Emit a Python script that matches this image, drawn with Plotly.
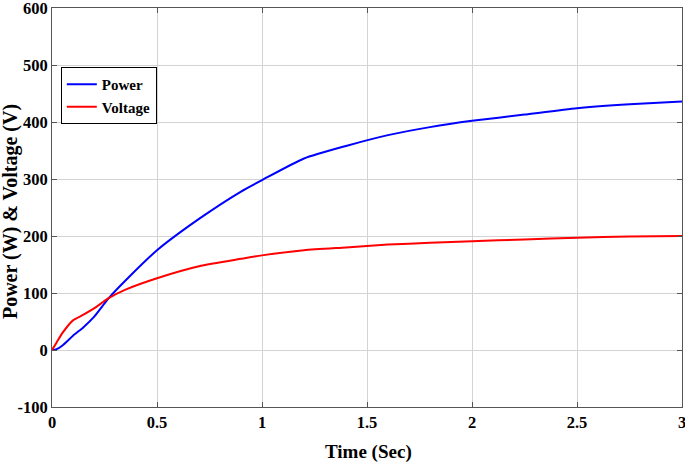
import plotly.graph_objects as go

time_s = [0, 0.02, 0.05, 0.1, 0.15, 0.2, 0.27, 0.35, 0.5, 0.7, 0.9, 1.0, 1.2, 1.4, 1.6, 1.8, 2.0, 2.25, 2.5, 2.75, 3.0]
power_w = [0, 1, 8, 25, 40, 58, 91, 122, 175, 230, 278, 298, 336, 358, 377, 391, 402, 413, 424, 431, 436]
voltage_v = [0, 12, 30, 52, 62, 73, 91, 106, 126, 147, 160, 166, 175, 180, 185, 188, 191, 194, 197, 199, 200]

x_ticks = [0, 0.5, 1, 1.5, 2, 2.5, 3]
x_labels = ["0", "0.5", "1", "1.5", "2", "2.5", "3"]
y_ticks = [-100, 0, 100, 200, 300, 400, 500, 600]
y_labels = ["-100", "0", "100", "200", "300", "400", "500", "600"]

font_family = "Liberation Serif"

fig = go.Figure()
fig.add_trace(go.Scatter(x=time_s, y=power_w, mode="lines", name="Power",
                         line=dict(color="#0000ff", width=2, shape="spline", smoothing=0.6)))
fig.add_trace(go.Scatter(x=time_s, y=voltage_v, mode="lines", name="Voltage",
                         line=dict(color="#ff0000", width=2, shape="spline", smoothing=0.6)))

axis_common = dict(showline=True, linecolor="#555555", linewidth=1, mirror="ticks",
                   ticks="inside", ticklen=5, tickcolor="#555555",
                   showgrid=True, gridcolor="#d3d3d3", gridwidth=1, zeroline=False,
                   automargin=False, ticklabeloverflow="allow",
                   tickfont=dict(family=font_family, size=16.5, color="black", weight="bold"))

fig.update_xaxes(range=[0, 3], tickvals=x_ticks, ticktext=x_labels, **axis_common)
fig.update_yaxes(range=[-100, 600], tickvals=y_ticks, ticktext=y_labels, **axis_common)

fig.update_layout(
    width=685, height=467,
    margin=dict(l=52, r=3, t=8, b=60),
    paper_bgcolor="white", plot_bgcolor="white",
    showlegend=True,
    legend=dict(x=0.014, y=0.852, xanchor="left", yanchor="top",
                bgcolor="white", bordercolor="black", borderwidth=1,
                font=dict(family=font_family, size=15, color="black", weight="bold"),
                itemwidth=30, tracegroupgap=0),
    annotations=[
        dict(text="<b>Time (Sec)</b>", xref="paper", yref="paper", x=0.5016, y=-0.113,
             xanchor="center", yanchor="middle", showarrow=False,
             font=dict(family=font_family, size=19, color="black")),
        dict(text="<b>Power (W) & Voltage (V)</b>", xref="paper", yref="paper", x=-0.0667, y=0.491,
             xanchor="center", yanchor="middle", showarrow=False, textangle=-90, borderpad=0,
             font=dict(family=font_family, size=20, color="black")),
    ],
)

fig.write_html("out.html", config={"displayModeBar": False},
               post_script="document.body.style.margin='0';")
